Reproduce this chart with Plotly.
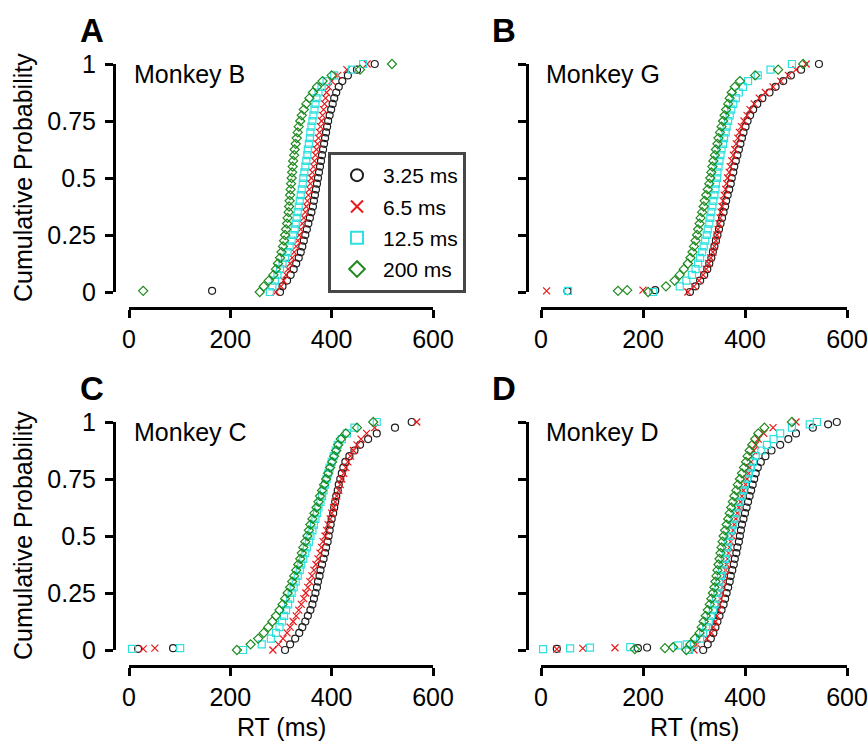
import plotly.graph_objects as go

# ---------------- data ----------------
CONDITIONS = ["3.25 ms", "6.5 ms", "12.5 ms", "200 ms"]
MONKEYS = ["Monkey B", "Monkey G", "Monkey C", "Monkey D"]
PANEL_LETTERS = ["A", "B", "C", "D"]

# cumulative-probability levels of the main quantile points
P_GRID = [0.000, 0.025, 0.050, 0.075, 0.100, 0.125, 0.150, 0.175, 0.200, 0.225,
          0.250, 0.275, 0.300, 0.325, 0.350, 0.375, 0.400, 0.425, 0.450, 0.475,
          0.500, 0.525, 0.550, 0.575, 0.600, 0.625, 0.650, 0.675, 0.700, 0.725,
          0.750, 0.775, 0.800, 0.825, 0.850, 0.875, 0.900, 0.925, 0.950, 0.975, 1.000]

# ---- Monkey B (panel A) ----
MB_RT_325 = [298, 303, 312, 319, 325, 330, 335, 339, 342, 345, 348, 351, 354, 357, 360, 363, 365, 367, 369, 371,
             373, 375, 377, 379, 381, 383, 385, 387, 389, 391, 393, 396, 399, 402, 405, 409, 414, 421, 432, 450, 485]
MB_RT_65 = [290, 300, 305, 310, 314, 318, 322, 326, 330, 333, 336, 339, 342, 345, 348, 350, 352, 354, 356, 358,
            360, 362, 364, 366, 368, 370, 372, 374, 376, 378, 380, 382, 384, 386, 388, 390, 394, 400, 412, 430, 470]
MB_RT_125 = [278, 283, 288, 293, 298, 303, 308, 313, 317, 321, 324, 327, 329, 331, 333, 335, 337, 339, 341, 343,
             344, 346, 348, 350, 352, 353, 355, 357, 358, 360, 362, 364, 366, 368, 370, 374, 380, 390, 405, 440, 462]
MB_RT_200 = [258, 266, 276, 285, 290, 294, 298, 301, 304, 306, 308, 310, 312, 313, 315, 316, 317, 318, 319, 320,
             321, 322, 323, 324, 326, 327, 329, 331, 333, 335, 338, 341, 345, 350, 356, 363, 371, 382, 400, 456, 519]
MB_OUT_RT_325, MB_OUT_P_325 = [164], [0.005]
MB_OUT_RT_65, MB_OUT_P_65 = [], []
MB_OUT_RT_125, MB_OUT_P_125 = [], []
MB_OUT_RT_200, MB_OUT_P_200 = [28], [0.005]

# ---- Monkey G (panel B) ----
MG_RT_325 = [292, 303, 312, 320, 326, 330, 334, 337, 340, 343, 346, 349, 352, 355, 358, 361, 363, 366, 369, 372,
             374, 377, 379, 382, 385, 388, 391, 394, 397, 401, 405, 410, 416, 424, 434, 448, 460, 475, 490, 510, 545]
MG_RT_65 = [288, 300, 310, 318, 324, 329, 333, 337, 340, 343, 345, 347, 349, 351, 353, 355, 357, 359, 362, 364,
            366, 369, 371, 374, 377, 380, 383, 386, 389, 393, 398, 404, 410, 418, 428, 440, 455, 470, 485, 500, 520]
MG_RT_125 = [220, 272, 285, 296, 303, 308, 312, 316, 319, 322, 325, 327, 330, 332, 334, 336, 338, 340, 342, 343,
             345, 346, 348, 350, 352, 354, 357, 359, 362, 364, 367, 370, 373, 377, 382, 388, 396, 406, 425, 450, 492]
MG_RT_200 = [210, 245, 262, 272, 280, 288, 293, 297, 300, 303, 306, 308, 311, 313, 316, 319, 321, 324, 327, 330,
             332, 334, 336, 338, 341, 343, 346, 348, 351, 354, 357, 360, 363, 367, 370, 374, 380, 390, 420, 465, 514]
MG_OUT_RT_325, MG_OUT_P_325 = [52, 224], [0.004, 0.008]
MG_OUT_RT_65, MG_OUT_P_65 = [11, 200], [0.005, 0.008]
MG_OUT_RT_125, MG_OUT_P_125 = [53], [0.005]
MG_OUT_RT_200, MG_OUT_P_200 = [151, 169], [0.005, 0.008]

# ---- Monkey C (panel C) ----
MC_RT_325 = [308, 318, 328, 336, 342, 348, 353, 358, 362, 365, 368, 371, 373, 376, 378, 381, 384, 387, 389, 392,
             394, 396, 398, 400, 403, 405, 407, 409, 412, 414, 417, 420, 423, 427, 435, 445, 456, 472, 489, 525, 558]
MC_RT_65 = [284, 295, 304, 312, 318, 324, 330, 335, 340, 345, 349, 353, 357, 361, 365, 369, 373, 377, 380, 383,
            387, 390, 393, 397, 400, 404, 407, 410, 414, 417, 420, 424, 428, 432, 437, 443, 450, 458, 469, 485, 568]
MC_RT_125 = [225, 262, 280, 290, 297, 302, 306, 310, 314, 318, 321, 325, 329, 333, 337, 340, 344, 348, 351, 355,
             358, 362, 365, 368, 371, 374, 378, 381, 384, 387, 390, 393, 396, 400, 404, 408, 412, 420, 430, 445, 489]
MC_RT_200 = [213, 240, 255, 266, 275, 283, 290, 297, 303, 308, 313, 318, 322, 326, 330, 334, 338, 341, 344, 348,
             352, 355, 358, 362, 366, 370, 374, 377, 381, 385, 389, 393, 397, 401, 405, 409, 413, 418, 428, 450, 482]
MC_OUT_RT_325, MC_OUT_P_325 = [18, 87], [0.005, 0.008]
MC_OUT_RT_65, MC_OUT_P_65 = [28, 51], [0.005, 0.008]
MC_OUT_RT_125, MC_OUT_P_125 = [6, 101], [0.005, 0.008]
MC_OUT_RT_200, MC_OUT_P_200 = [], []

# ---- Monkey D (panel D) ----
MD_RT_325 = [318, 327, 333, 338, 342, 346, 350, 354, 358, 361, 364, 367, 370, 372, 375, 378, 380, 383, 385, 388,
             390, 392, 394, 397, 400, 403, 406, 409, 412, 415, 418, 421, 425, 431, 440, 452, 469, 485, 500, 533, 580]
MD_RT_65 = [300, 306, 325, 334, 338, 342, 345, 348, 350, 352, 354, 356, 358, 360, 362, 364, 366, 368, 370, 372,
            375, 377, 379, 382, 385, 388, 391, 394, 397, 401, 404, 407, 409, 412, 414, 417, 421, 426, 437, 455, 500]
MD_RT_125 = [290, 300, 312, 318, 324, 329, 333, 337, 340, 343, 346, 348, 350, 353, 355, 358, 361, 363, 365, 367,
             370, 373, 376, 379, 383, 386, 389, 393, 397, 400, 404, 408, 412, 416, 421, 432, 443, 456, 469, 492, 541]
MD_RT_200 = [285, 293, 302, 311, 315, 319, 323, 327, 331, 334, 337, 340, 342, 344, 346, 348, 350, 352, 354, 356,
             358, 361, 364, 367, 370, 373, 376, 379, 383, 386, 390, 394, 398, 402, 405, 409, 414, 420, 426, 438, 492]
MD_OUT_RT_325, MD_OUT_P_325 = [31, 190, 208, 563], [0.005, 0.008, 0.011, 0.99]
MD_OUT_RT_65, MD_OUT_P_65 = [31, 82, 145], [0.004, 0.007, 0.010]
MD_OUT_RT_125, MD_OUT_P_125 = [4, 57, 96, 175, 269, 286, 527], [0.004, 0.007, 0.010, 0.013, 0.020, 0.025, 0.99]
MD_OUT_RT_200, MD_OUT_P_200 = [184, 243, 259], [0.004, 0.008, 0.012]

PANELS = [
    ([MB_RT_325, MB_RT_65, MB_RT_125, MB_RT_200],
     [(MB_OUT_RT_325, MB_OUT_P_325), (MB_OUT_RT_65, MB_OUT_P_65), (MB_OUT_RT_125, MB_OUT_P_125), (MB_OUT_RT_200, MB_OUT_P_200)]),
    ([MG_RT_325, MG_RT_65, MG_RT_125, MG_RT_200],
     [(MG_OUT_RT_325, MG_OUT_P_325), (MG_OUT_RT_65, MG_OUT_P_65), (MG_OUT_RT_125, MG_OUT_P_125), (MG_OUT_RT_200, MG_OUT_P_200)]),
    ([MC_RT_325, MC_RT_65, MC_RT_125, MC_RT_200],
     [(MC_OUT_RT_325, MC_OUT_P_325), (MC_OUT_RT_65, MC_OUT_P_65), (MC_OUT_RT_125, MC_OUT_P_125), (MC_OUT_RT_200, MC_OUT_P_200)]),
    ([MD_RT_325, MD_RT_65, MD_RT_125, MD_RT_200],
     [(MD_OUT_RT_325, MD_OUT_P_325), (MD_OUT_RT_65, MD_OUT_P_65), (MD_OUT_RT_125, MD_OUT_P_125), (MD_OUT_RT_200, MD_OUT_P_200)]),
]

X_TICKS = [0, 200, 400, 600]
Y_TICKS = [0, 0.25, 0.5, 0.75, 1]
Y_TICK_TEXT = ["0", "0.25", "0.5", "0.75", "1"]

# ---------------- styles ----------------
FONT = "Liberation Sans, Arial, Helvetica, sans-serif"
SYMBOLS = ["circle-open", "x-thin-open", "square-open", "diamond-open"]
COLORS = ["#1e1e1e", "#e8191a", "#2fe0e0", "#1f8a1f"]
SIZES = [7, 7, 7, 7]

W, H = 868, 742
# pixel layout of each panel: (x of 0 ms, x of 600 ms, y-axis line x, y of p=1, y of p=0, x-axis line y)
GEOM = [
    (129, 433, 114, 64, 292, 308),
    (541, 847, 527, 64, 292, 308),
    (129, 433, 114, 422, 650, 666),
    (541, 847, 527, 422, 650, 666),
]

fig = go.Figure()
layout = {}
annotations = []

for pi, ((mains, outs), geom) in enumerate(zip(PANELS, GEOM)):
    sfx = "" if pi == 0 else str(pi + 1)
    xa, ya = "x" + sfx, "y" + sfx
    for ci in range(4):
        out_rt, out_p = outs[ci]
        xs = list(out_rt) + list(mains[ci])
        ys = list(out_p) + list(P_GRID)
        fig.add_trace(go.Scatter(
            x=xs, y=ys, mode="markers", xaxis=xa, yaxis=ya,
            name=CONDITIONS[ci], legendgroup=CONDITIONS[ci],
            showlegend=(pi == 0), cliponaxis=False,
            marker=dict(symbol=SYMBOLS[ci], size=SIZES[ci], color=COLORS[ci],
                        line=dict(width=1.2, color=COLORS[ci])),
        ))
    x0, x600, yline, ytop, ybot, xline = geom
    layout["xaxis" + sfx] = dict(
        domain=[x0 / W, x600 / W], anchor="free", position=1 - xline / H,
        range=[0, 600], tickvals=X_TICKS, ticks="outside", ticklen=8, tickwidth=3,
        tickcolor="black", showline=True, linewidth=3, linecolor="black",
        showgrid=False, zeroline=False, automargin=False,
        tickfont=dict(size=25, color="black", family=FONT),
        fixedrange=True,
    )
    layout["yaxis" + sfx] = dict(
        domain=[1 - ybot / H, 1 - ytop / H], anchor="free", position=yline / W,
        range=[0, 1], tickvals=Y_TICKS, ticktext=Y_TICK_TEXT, ticks="outside", ticklen=8,
        tickwidth=3, tickcolor="black", showline=True, linewidth=3, linecolor="black",
        showgrid=False, zeroline=False, showticklabels=(pi % 2 == 0), automargin=False,
        ticklabelstandoff=4,
        tickfont=dict(size=25, color="black", family=FONT), fixedrange=True,
    )
    # monkey label
    annotations.append(dict(text=MONKEYS[pi], xref=xa, yref=ya, x=6, y=0.958,
                            xanchor="left", yanchor="middle", showarrow=False,
                            font=dict(size=25, color="black", family=FONT)))
    # panel letter
    annotations.append(dict(text="<b>" + PANEL_LETTERS[pi] + "</b>", xref="paper", yref="paper",
                            x=(x0 - 37) / W, y=1 - (ytop - 34) / H, xanchor="center", yanchor="middle",
                            showarrow=False, font=dict(size=33, color="black", family=FONT)))
    if pi % 2 == 0:
        annotations.append(dict(text="Cumulative Probability", xref="paper", yref=ya, x=23 / W, y=0.5,
                                xanchor="center", yanchor="middle", textangle=-90, showarrow=False,
                                font=dict(size=25, color="black", family=FONT)))
    if pi >= 2:
        annotations.append(dict(text="RT (ms)", xref=xa, yref="paper", x=300, y=1 - 727 / H,
                                xanchor="center", yanchor="middle", showarrow=False,
                                font=dict(size=25, color="black", family=FONT)))

fig.update_layout(
    width=W, height=H, margin=dict(l=0, r=0, t=0, b=0, pad=0, autoexpand=False),
    paper_bgcolor="white", plot_bgcolor="white",
    font=dict(family=FONT, color="black"),
    annotations=annotations,
    legend=dict(x=328 / W, y=1 - 152 / H, xanchor="left", yanchor="top",
                bordercolor="#474747", borderwidth=3, bgcolor="white",
                font=dict(size=21, color="black", family=FONT),
                itemsizing="constant", itemwidth=42, tracegroupgap=1),
    **layout,
)

fig.write_html("out.html")
